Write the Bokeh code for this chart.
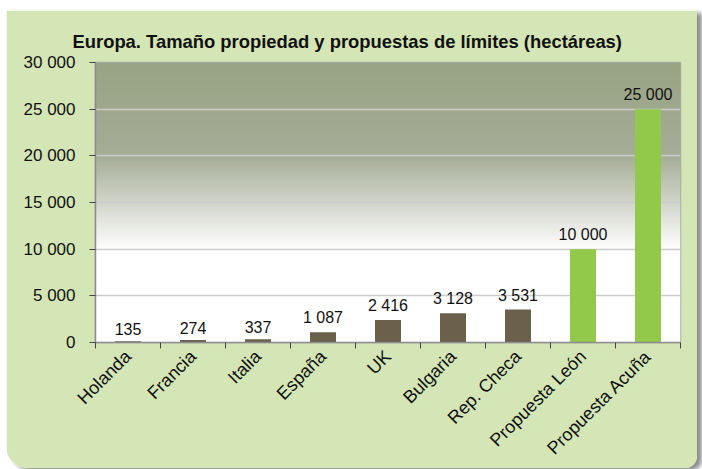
import math
import numpy as np
from bokeh.plotting import figure
from bokeh.core.properties import value
from bokeh.models import ColumnDataSource, FixedTicker, LabelSet, Range1d
from bokeh.embed import file_html
from bokeh.resources import INLINE

# ---- data ----
categories = ["Holanda", "Francia", "Italia", "España", "UK", "Bulgaria",
              "Rep. Checa", "Propuesta León", "Propuesta Acuña"]
values = [135, 274, 337, 1087, 2416, 3128, 3531, 10000, 25000]
bar_colors = ["#6b604b"] * 7 + ["#92c94a"] * 2
y_ticks = [0, 5000, 10000, 15000, 20000, 25000, 30000]
y_tick_labels = ["0", "5 000", "10 000", "15 000", "20 000", "25 000", "30 000"]
title_text = "Europa. Tamaño propiedad y propuestas de límites (hectáreas)"

FONT = "Liberation Sans"
n = len(categories)
xs = np.arange(n) + 0.5
value_labels = [f"{v:,}".replace(",", " ") for v in values]

src = ColumnDataSource(dict(x=xs, top=values, color=bar_colors, label=value_labels))

p = figure(width=691, height=458,
           output_backend="svg", toolbar_location=None,
           x_range=Range1d(0, n), y_range=Range1d(y_ticks[0], y_ticks[-1]),
           min_border_left=89, min_border_right=17, min_border_top=52,
           min_border_bottom=100)
p.border_fill_color = "#d4e6b6"
p.background_fill_color = "white"
p.outline_line_color = "#ababab"
p.outline_line_width = 1.5
p.styles = {"border-radius": "0px 0px 12px 22px", "overflow": "hidden",
            "box-shadow": "5px 3px 4px #8f8f8f", "margin-left": "6px",
            "margin-top": "10px"}

# title
p.title.text = title_text
p.title.align = "left"
p.title.offset = -23
p.title.text_font = FONT
p.title.text_font_size = "18.4px"
p.title.text_font_style = "bold"
p.title.text_color = "#111111"
p.title.vertical_align = "bottom"
p.title.standoff = 22

# gradient background of the plot area
ny = 300
yy = np.linspace(y_ticks[0], y_ticks[-1], ny)
c30 = np.array([152, 164, 132])
c20 = np.array([166, 173, 151])
white = np.array([255, 255, 255])
rows = []
for y in yy:
    if y <= 10000:
        c = white
    elif y <= 20000:
        t = (y - 10000) / 10000
        c = white + (c20 - white) * t
    else:
        t = (y - 20000) / 10000
        c = c20 + (c30 - c20) * t
    rows.append(c)
rows = np.array(rows).astype(np.uint8)
img = np.empty((ny, 2), dtype=np.uint32)
view = img.view(dtype=np.uint8).reshape((ny, 2, 4))
view[:, :, 0] = rows[:, None, 0]
view[:, :, 1] = rows[:, None, 1]
view[:, :, 2] = rows[:, None, 2]
view[:, :, 3] = 255
p.image_rgba(image=[img], x=0, y=y_ticks[0], dw=n, dh=y_ticks[-1] - y_ticks[0],
             level="image")

p.vbar(x="x", top="top", width=0.4, color="color", source=src, line_color=None)

p.add_layout(LabelSet(x="x", y="top", text="label", source=src, y_offset=6,
                      text_align="center", text_baseline="bottom",
                      text_font=value(FONT), text_font_size=value("16px"),
                      text_color="#111111"))

# grid
p.xgrid.visible = False
p.ygrid.grid_line_color = "#cccccc"
p.ygrid.grid_line_width = 1.5

# y axis
p.yaxis.ticker = FixedTicker(ticks=y_ticks)
p.yaxis.major_label_overrides = {t: l for t, l in zip(y_ticks, y_tick_labels)}
p.yaxis.axis_line_color = "#8c8c8c"
p.yaxis.axis_line_width = 1.5
p.yaxis.major_tick_line_color = "#444444"
p.yaxis.major_tick_out = 6
p.yaxis.major_tick_in = 0
p.yaxis.minor_tick_line_color = None
p.yaxis.major_label_text_font = FONT
p.yaxis.major_label_text_font_size = "17px"
p.yaxis.major_label_text_color = "#111111"
p.yaxis.major_label_standoff = 14

# x axis
p.xaxis.ticker = FixedTicker(ticks=list(xs), minor_ticks=list(range(n + 1)))
p.xaxis.major_label_overrides = {float(x): c for x, c in zip(xs, categories)}
p.xaxis.axis_line_color = "#8c8c8c"
p.xaxis.axis_line_width = 1.5
p.xaxis.major_tick_line_color = None
p.xaxis.major_tick_out = 0
p.xaxis.major_tick_in = 0
p.xaxis.minor_tick_line_color = "#444444"
p.xaxis.minor_tick_out = 6
p.xaxis.minor_tick_in = 0
p.xaxis.major_label_orientation = math.pi / 4
p.xaxis.major_label_text_font = FONT
p.xaxis.major_label_text_font_size = "18px"
p.xaxis.major_label_text_color = "#111111"
p.xaxis.major_label_text_baseline = "top"
p.xaxis.major_label_standoff = 5

open("out.html", "w").write(file_html(p, INLINE))
